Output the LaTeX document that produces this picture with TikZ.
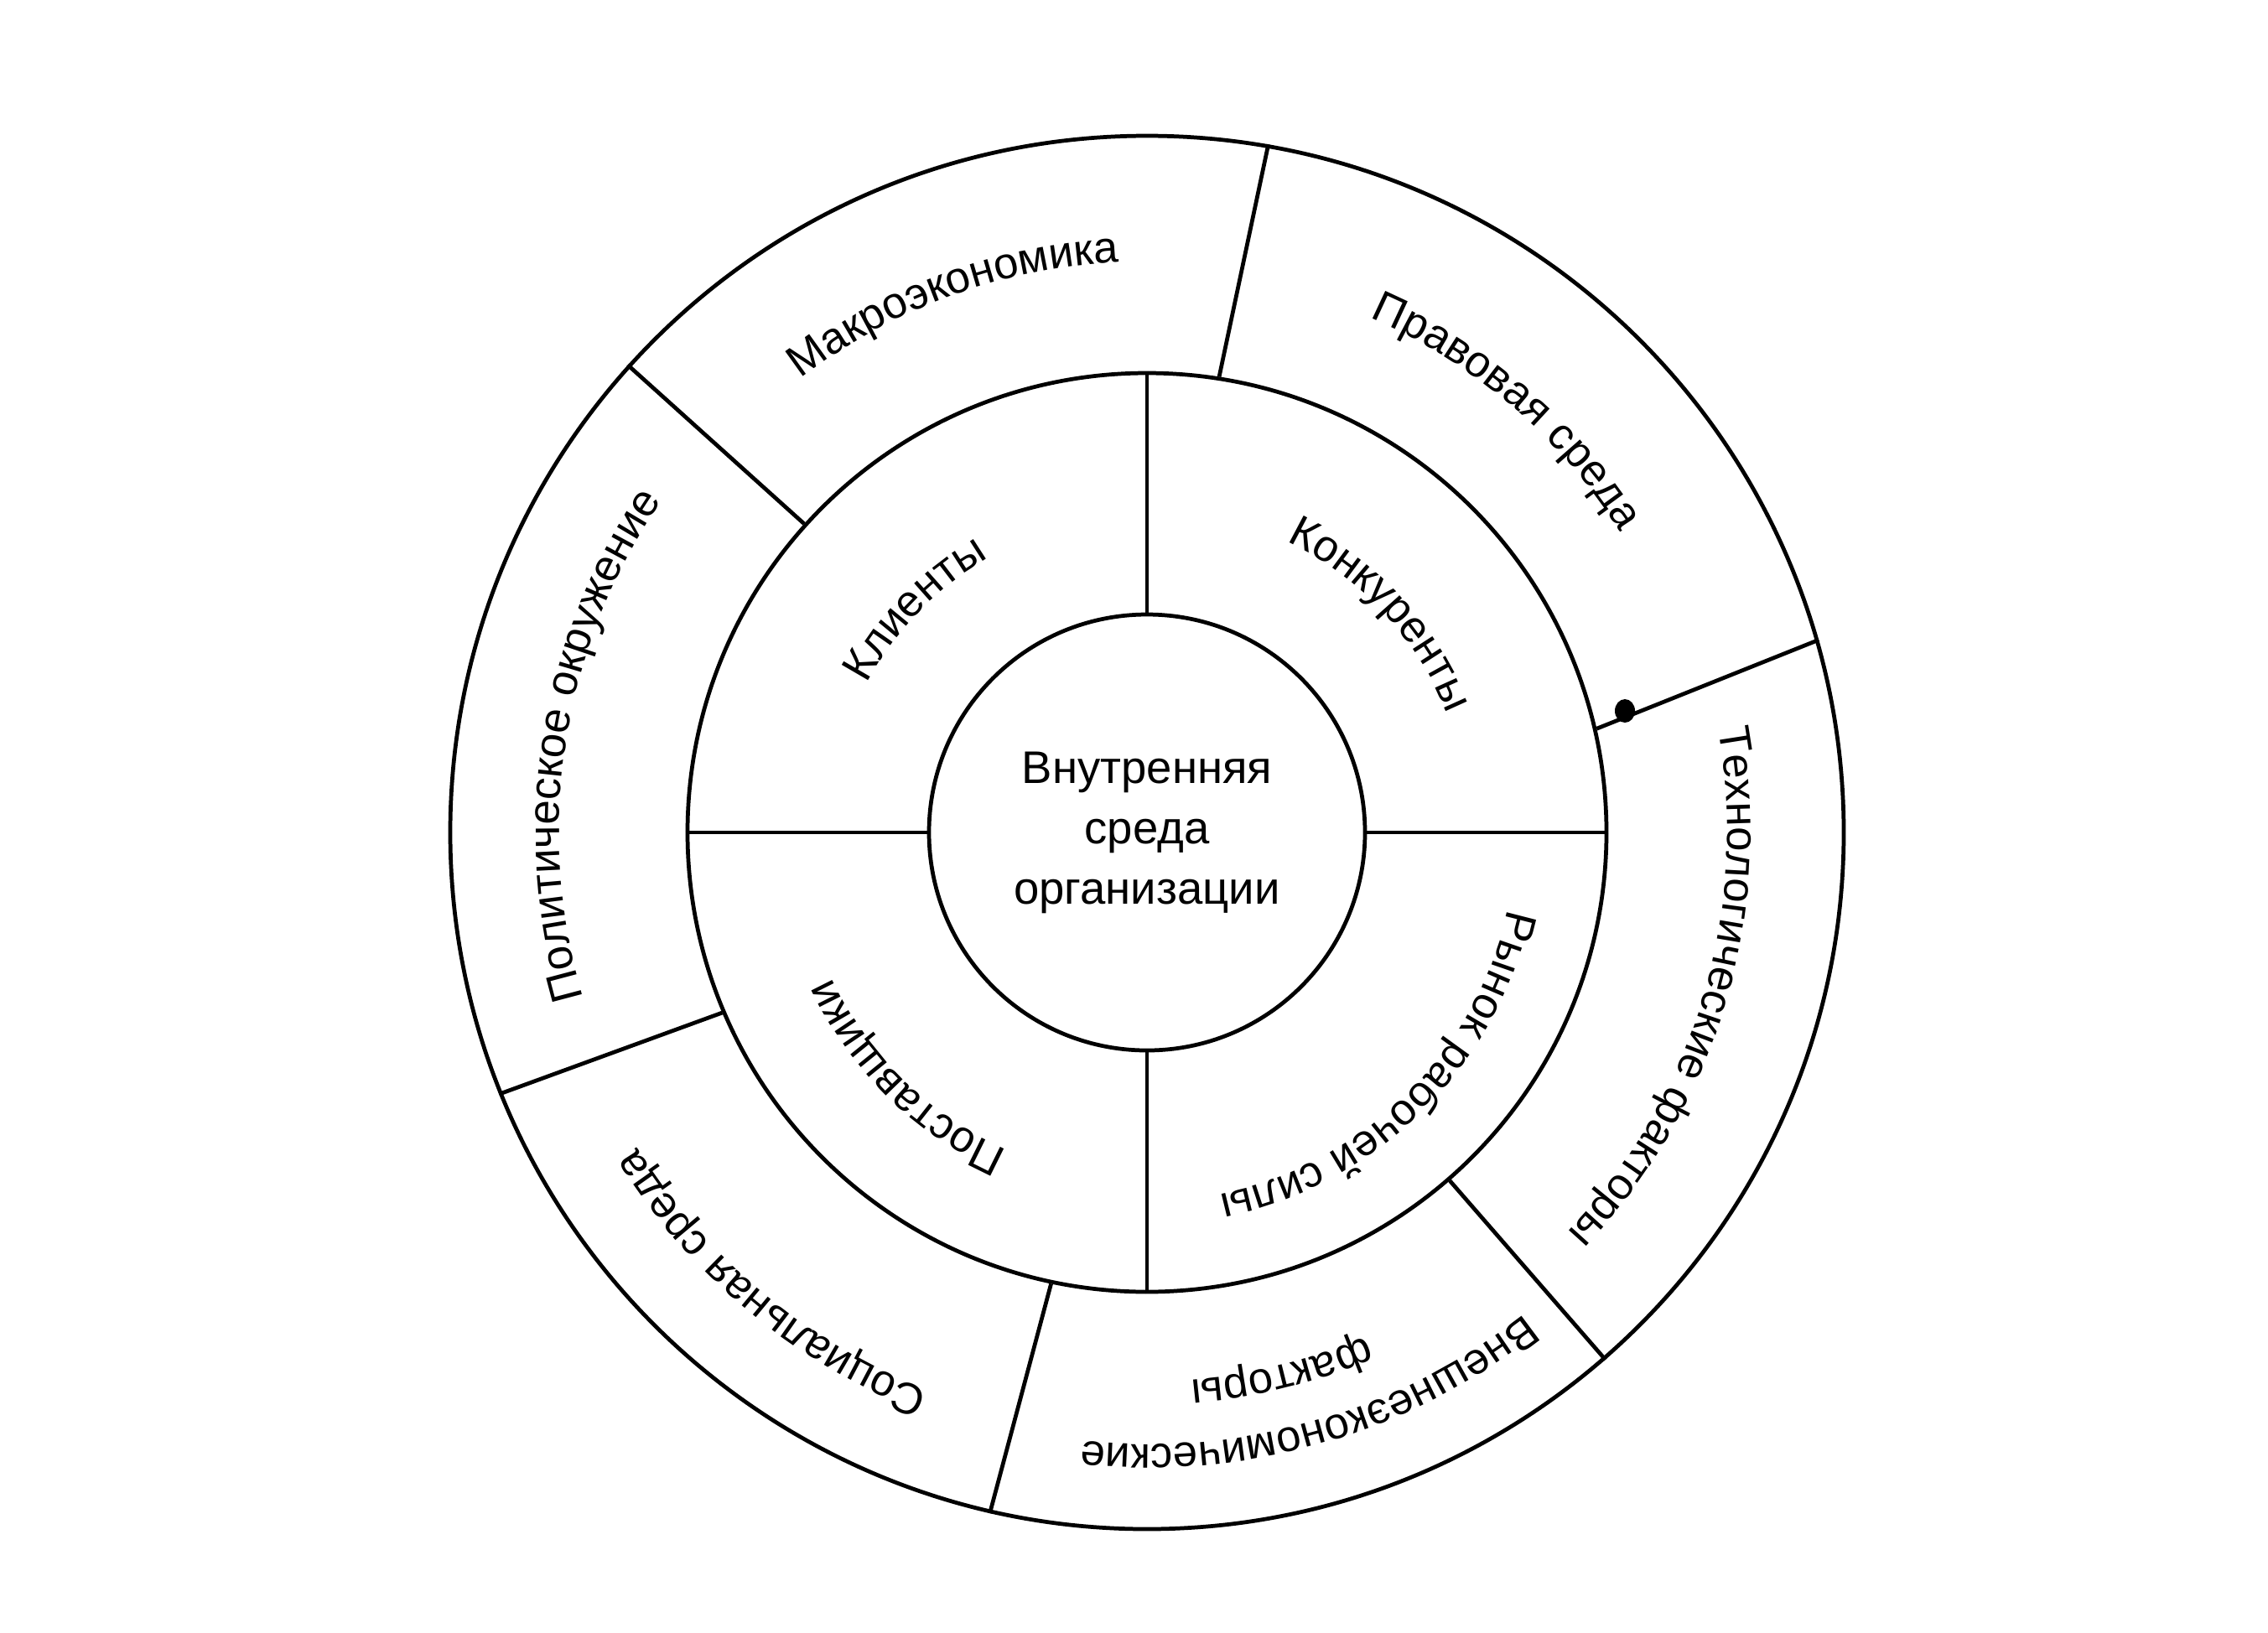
\documentclass[tikz,border=0pt]{standalone}
\usepackage{fontspec}
\setmainfont{Liberation Sans}
\usetikzlibrary{decorations.text}
\newcommand\lblfont{\fontsize{15}{18}\selectfont}
\newcommand\ringlabel[4]{% name, baseline radius (cm), middle angle, text
  \path[arctext={|\lblfont|#4}] (C) ++({#3+70}:#2) coordinate (#1)
    arc[start angle={#3+70}, end angle={#3-70}, radius=#2];}
\begin{document}
\begin{tikzpicture}[
  line width=1.35pt,
  ring/.style={draw, circle, inner sep=0pt, line width=1.35pt},
  divider/.style={line width=1.35pt},
  arctext/.style={decorate, decoration={text along path, text align=center, text={#1}}}]
\useasboundingbox (0,0) rectangle (27.05,-19.47);
\fill[white] (0,0) rectangle (27.05,-19.47);
\coordinate (C) at (13.68,-9.93);
% rings
\node[ring, minimum size=16.62cm] (outer) at (C) {};
\node[ring, minimum size=10.96cm] (middle) at (C) {};
\node[ring, minimum size=5.2cm, align=center,
      font=\fontsize{15.5}{20.5}\selectfont] (core) at (C) {Внутренняя\\среда\\организации};
% outer ring dividers
\draw[divider] (outer.80.26) -- (middle.81.96);
\draw[divider] (outer.138.95) -- (middle.138.4);
\draw[divider] (outer.16.12) -- (middle.13.27);
\draw[divider] (outer.202.4) -- (middle.203.8);
\draw[divider] (outer.257.9) -- (middle.258.4);
\draw[divider] (outer.311.8) -- (middle.311.75);
% middle ring dividers
\draw[divider] (middle.90) -- (core.90);
\draw[divider] (middle.180) -- (core.180);
\draw[divider] (middle.0) -- (core.0);
\draw[divider] (middle.270) -- (core.270);
% ink blot on the right divider
\fill (19.38,-8.48) ellipse [x radius=0.12, y radius=0.14];
% outer ring labels
\ringlabel{l1}{6.81}{110.1}{Макроэкономика}
\ringlabel{l2}{6.69}{49.5}{Правовая среда}
\ringlabel{l3}{6.92}{-16.7}{Технологические факторы}
\ringlabel{l4a}{7.30}{-74}{Внешнеэкономические}
\ringlabel{l4b}{6.55}{-76}{факторы}
\ringlabel{l5}{7.15}{230.2}{Социальная среда}
\ringlabel{l6}{7.01}{171}{Политическое окружение}
% middle ring labels
\ringlabel{m1}{3.78}{136}{Клиенты}
\ringlabel{m2}{3.85}{43}{Конкуренты}
\ringlabel{m3}{4.40}{-45.4}{Рынок рабочей силы}
\ringlabel{m4}{4.14}{225.5}{Поставщики}
\end{tikzpicture}
\end{document}
